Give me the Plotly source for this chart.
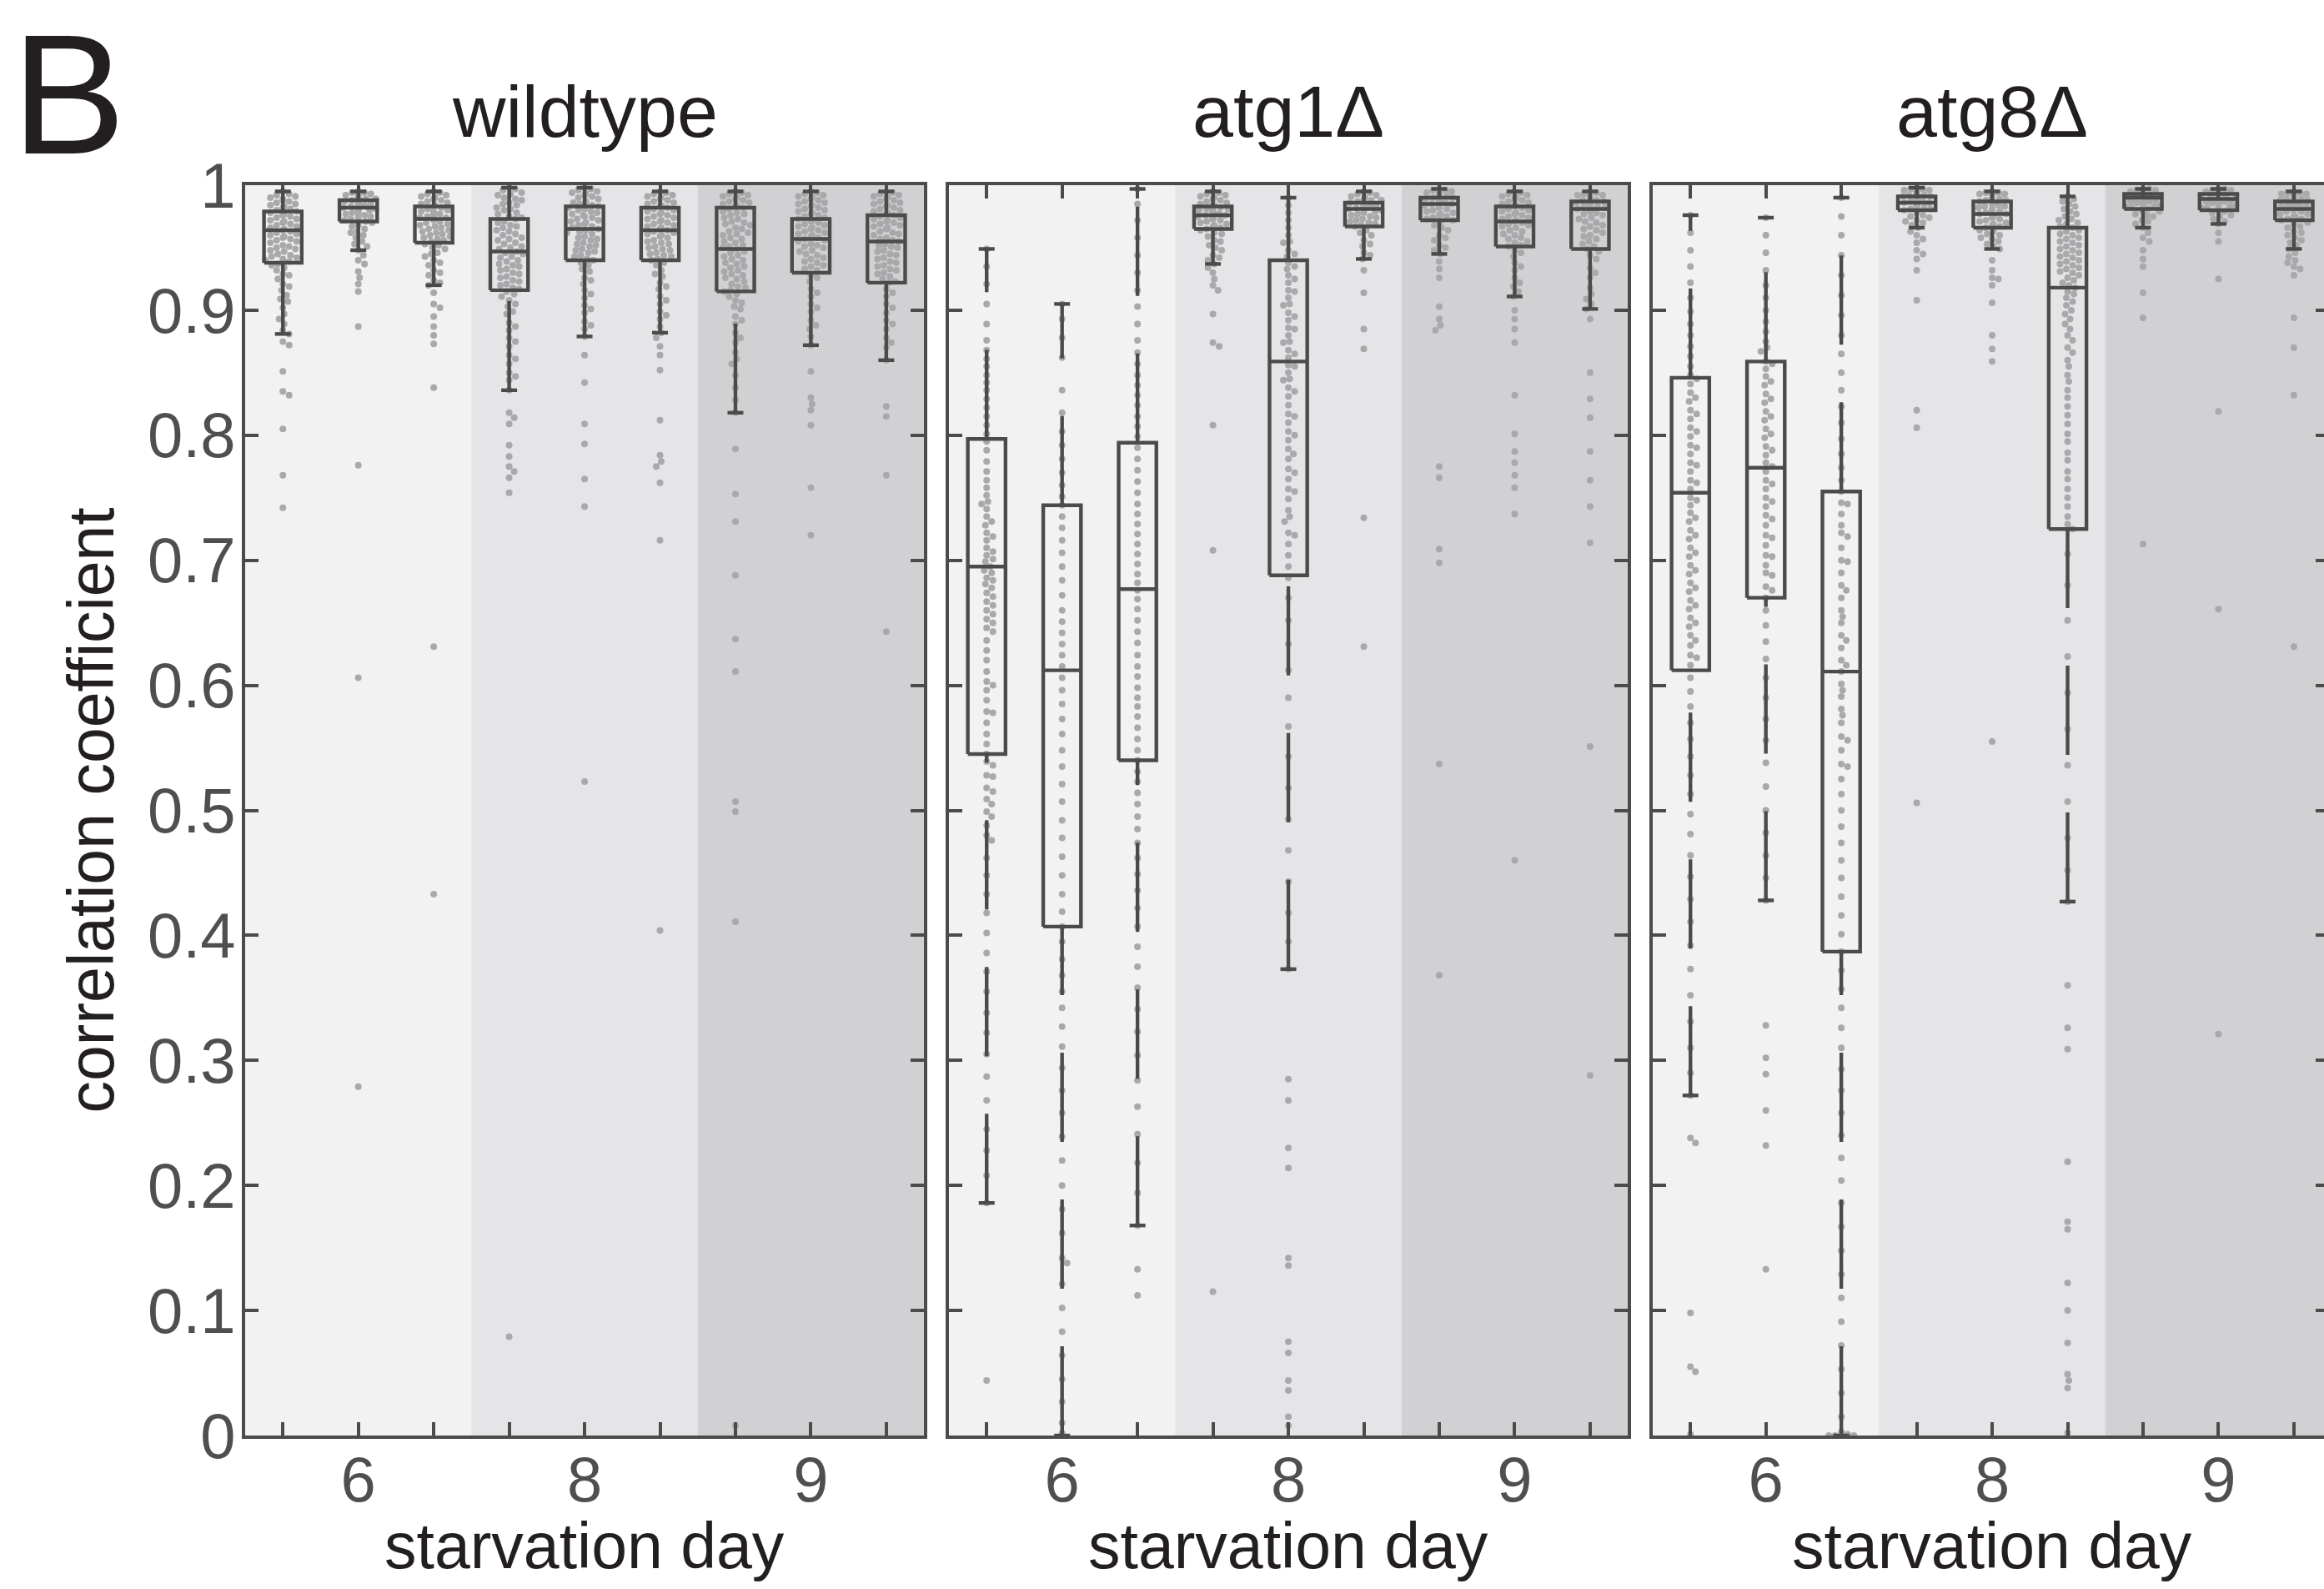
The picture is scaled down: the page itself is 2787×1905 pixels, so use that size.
import plotly.graph_objects as go

# ---------------- data ----------------
panel_titles = ["wildtype", "atg1Δ", "atg8Δ"]
day_labels = ["6", "8", "9"]
reps_per_day = 3
x_title = "starvation day"
y_title = "correlation coefficient"
y_tickvals = [0, 0.1, 0.2, 0.3, 0.4, 0.5, 0.6, 0.7, 0.8, 0.9, 1.0]
y_ticktext = ["0", "0.1", "0.2", "0.3", "0.4", "0.5", "0.6", "0.7", "0.8", "0.9", "1"]

# box statistics (lower adjacent, q1, median, q3, upper adjacent) per replicate
wt_lo = [0.881, 0.948, 0.920, 0.836, 0.879, 0.882, 0.818, 0.872, 0.860]
wt_q1 = [0.938, 0.971, 0.954, 0.916, 0.940, 0.940, 0.915, 0.930, 0.922]
wt_med = [0.964, 0.982, 0.973, 0.947, 0.965, 0.964, 0.949, 0.957, 0.955]
wt_q3 = [0.979, 0.988, 0.983, 0.973, 0.983, 0.982, 0.982, 0.973, 0.976]
wt_hi = [0.995, 0.995, 0.995, 0.998, 0.998, 0.995, 0.995, 0.995, 0.995]

atg1_lo = [0.186, 0.000, 0.168, 0.937, 0.373, 0.941, 0.945, 0.911, 0.901]
atg1_q1 = [0.545, 0.407, 0.540, 0.965, 0.688, 0.967, 0.972, 0.951, 0.949]
atg1_med = [0.695, 0.612, 0.677, 0.976, 0.859, 0.981, 0.985, 0.971, 0.981]
atg1_q3 = [0.797, 0.744, 0.794, 0.983, 0.940, 0.986, 0.990, 0.983, 0.987]
atg1_hi = [0.949, 0.905, 0.997, 0.995, 0.990, 0.995, 0.997, 0.995, 0.995]

atg8_lo = [0.272, 0.428, 0.000, 0.966, 0.949, 0.427, 0.966, 0.969, 0.949]
atg8_q1 = [0.612, 0.670, 0.387, 0.980, 0.966, 0.725, 0.981, 0.980, 0.972]
atg8_med = [0.754, 0.774, 0.611, 0.986, 0.977, 0.918, 0.990, 0.989, 0.981]
atg8_q3 = [0.846, 0.859, 0.755, 0.991, 0.987, 0.966, 0.993, 0.993, 0.987]
atg8_hi = [0.976, 0.974, 0.990, 0.998, 0.995, 0.991, 0.997, 0.997, 0.995]

# individual cells
wt_pts = [
    [0.995, 0.993, 0.991, 0.990, 0.988, 0.986, 0.985, 0.983, 0.982, 0.980, 0.979, 0.977, 0.976, 0.974, 0.972, 0.971,
     0.969, 0.967, 0.965, 0.964, 0.962, 0.960, 0.958, 0.957, 0.955, 0.952, 0.950, 0.948, 0.945, 0.943, 0.941, 0.939,
     0.936, 0.932, 0.928, 0.925, 0.921, 0.916, 0.912, 0.907, 0.902, 0.897, 0.893, 0.889, 0.884, 0.881, 0.875, 0.872,
     0.851, 0.835, 0.832, 0.805, 0.768, 0.742,
     0.992, 0.989, 0.987, 0.984, 0.981, 0.978, 0.976, 0.975, 0.973, 0.970, 0.968, 0.966, 0.963, 0.961, 0.959, 0.956,
     0.954, 0.951, 0.949, 0.947, 0.944, 0.942, 0.940, 0.937, 0.934, 0.929, 0.919, 0.909],
    [0.995, 0.994, 0.993, 0.992, 0.991, 0.990, 0.989, 0.988, 0.987, 0.986, 0.985, 0.984, 0.983, 0.982, 0.981, 0.980,
     0.979, 0.977, 0.976, 0.974, 0.972, 0.971, 0.968, 0.965, 0.962, 0.958, 0.955, 0.951, 0.948, 0.937, 0.931, 0.926,
     0.921, 0.915, 0.887, 0.776, 0.606, 0.279,
     0.994, 0.992, 0.990, 0.989, 0.987, 0.986, 0.985, 0.984, 0.983, 0.982, 0.981, 0.980, 0.978, 0.977, 0.975, 0.973,
     0.970, 0.967, 0.963, 0.960, 0.953, 0.944, 0.940],
    [0.995, 0.993, 0.992, 0.990, 0.989, 0.988, 0.986, 0.985, 0.983, 0.982, 0.980, 0.979, 0.977, 0.975, 0.974, 0.973,
     0.971, 0.969, 0.967, 0.965, 0.963, 0.961, 0.959, 0.957, 0.955, 0.952, 0.949, 0.946, 0.943, 0.940, 0.936, 0.932,
     0.928, 0.924, 0.920, 0.914, 0.902, 0.887, 0.880, 0.873, 0.838, 0.631, 0.433,
     0.994, 0.991, 0.989, 0.987, 0.984, 0.981, 0.979, 0.978, 0.976, 0.974, 0.972, 0.970, 0.968, 0.966, 0.964, 0.962,
     0.960, 0.958, 0.956, 0.953, 0.950, 0.945, 0.938, 0.930, 0.922, 0.905, 0.895],
    [0.998, 0.996, 0.994, 0.992, 0.990, 0.988, 0.986, 0.984, 0.982, 0.980, 0.977, 0.975, 0.973, 0.971, 0.968, 0.966,
     0.963, 0.961, 0.958, 0.956, 0.953, 0.951, 0.949, 0.947, 0.945, 0.942, 0.940, 0.937, 0.935, 0.932, 0.929, 0.926,
     0.923, 0.920, 0.917, 0.913, 0.908, 0.903, 0.897, 0.890, 0.884, 0.878, 0.871, 0.864, 0.857, 0.850, 0.844, 0.836,
     0.818, 0.814, 0.809, 0.792, 0.783, 0.775, 0.771, 0.766, 0.754, 0.079,
     0.997, 0.993, 0.989, 0.985, 0.981, 0.978, 0.974, 0.970, 0.967, 0.964, 0.960, 0.957, 0.954, 0.950, 0.946, 0.943,
     0.939, 0.936, 0.933, 0.930, 0.927, 0.924, 0.921, 0.918, 0.915, 0.911, 0.905, 0.899, 0.887, 0.875, 0.861, 0.847],
    [0.998, 0.996, 0.994, 0.993, 0.991, 0.989, 0.987, 0.985, 0.983, 0.981, 0.979, 0.977, 0.975, 0.973, 0.971, 0.969,
     0.967, 0.965, 0.963, 0.961, 0.958, 0.956, 0.953, 0.951, 0.948, 0.946, 0.943, 0.940, 0.936, 0.931, 0.926, 0.921,
     0.916, 0.910, 0.904, 0.898, 0.891, 0.885, 0.879, 0.864, 0.842, 0.809, 0.793, 0.765, 0.743, 0.523,
     0.997, 0.995, 0.992, 0.990, 0.986, 0.984, 0.982, 0.980, 0.978, 0.976, 0.974, 0.972, 0.970, 0.968, 0.966, 0.964,
     0.962, 0.959, 0.957, 0.954, 0.952, 0.949, 0.947, 0.944, 0.941, 0.938, 0.933, 0.924, 0.913, 0.901, 0.888],
    [0.995, 0.993, 0.991, 0.990, 0.988, 0.986, 0.984, 0.982, 0.980, 0.978, 0.976, 0.974, 0.972, 0.970, 0.968, 0.966,
     0.964, 0.962, 0.960, 0.958, 0.955, 0.953, 0.950, 0.948, 0.945, 0.943, 0.940, 0.936, 0.932, 0.927, 0.922, 0.917,
     0.911, 0.905, 0.899, 0.893, 0.887, 0.882, 0.878, 0.871, 0.864, 0.852, 0.812, 0.784, 0.779, 0.775, 0.762, 0.716,
     0.404,
     0.994, 0.992, 0.989, 0.987, 0.985, 0.983, 0.981, 0.979, 0.977, 0.975, 0.973, 0.971, 0.969, 0.967, 0.965, 0.963,
     0.961, 0.959, 0.956, 0.954, 0.951, 0.949, 0.946, 0.944, 0.941, 0.938, 0.929, 0.919, 0.908, 0.896],
    [0.995, 0.993, 0.991, 0.989, 0.987, 0.985, 0.983, 0.981, 0.978, 0.976, 0.973, 0.970, 0.968, 0.965, 0.962, 0.960,
     0.957, 0.954, 0.951, 0.949, 0.946, 0.943, 0.940, 0.937, 0.934, 0.931, 0.928, 0.925, 0.921, 0.918, 0.915, 0.911,
     0.906, 0.901, 0.895, 0.889, 0.882, 0.874, 0.866, 0.857, 0.848, 0.838, 0.828, 0.818, 0.789, 0.753, 0.731, 0.688,
     0.637, 0.611, 0.507, 0.499, 0.411, 0.008,
     0.994, 0.992, 0.990, 0.988, 0.986, 0.984, 0.982, 0.979, 0.977, 0.974, 0.971, 0.969, 0.966, 0.963, 0.961, 0.958,
     0.955, 0.952, 0.950, 0.947, 0.944, 0.941, 0.938, 0.935, 0.932, 0.929, 0.926, 0.923, 0.919, 0.916, 0.913, 0.908,
     0.903, 0.892, 0.878, 0.861],
    [0.995, 0.993, 0.991, 0.989, 0.987, 0.985, 0.983, 0.981, 0.979, 0.977, 0.975, 0.973, 0.971, 0.969, 0.967, 0.965,
     0.963, 0.961, 0.959, 0.957, 0.955, 0.952, 0.950, 0.947, 0.944, 0.941, 0.938, 0.935, 0.932, 0.928, 0.923, 0.917,
     0.911, 0.905, 0.899, 0.892, 0.885, 0.879, 0.872, 0.851, 0.830, 0.825, 0.820, 0.808, 0.758, 0.720,
     0.994, 0.992, 0.990, 0.988, 0.986, 0.984, 0.982, 0.980, 0.978, 0.976, 0.974, 0.972, 0.970, 0.968, 0.966, 0.964,
     0.962, 0.960, 0.958, 0.956, 0.953, 0.951, 0.948, 0.945, 0.942, 0.939, 0.936, 0.933, 0.926, 0.914, 0.902, 0.888],
    [0.995, 0.993, 0.991, 0.989, 0.987, 0.985, 0.983, 0.981, 0.979, 0.977, 0.975, 0.973, 0.971, 0.969, 0.967, 0.965,
     0.962, 0.960, 0.957, 0.955, 0.952, 0.950, 0.947, 0.944, 0.941, 0.938, 0.935, 0.932, 0.929, 0.925, 0.922, 0.917,
     0.911, 0.905, 0.898, 0.892, 0.885, 0.878, 0.870, 0.860, 0.823, 0.815, 0.768, 0.643,
     0.994, 0.992, 0.990, 0.988, 0.986, 0.984, 0.982, 0.980, 0.978, 0.976, 0.974, 0.972, 0.970, 0.968, 0.966, 0.963,
     0.961, 0.958, 0.956, 0.953, 0.951, 0.948, 0.945, 0.942, 0.939, 0.936, 0.933, 0.930, 0.927, 0.923, 0.914, 0.902,
     0.889, 0.874],
]

atg1_pts = [
    [0.949, 0.935, 0.921, 0.905, 0.889, 0.876, 0.868, 0.861, 0.855, 0.848, 0.842, 0.836, 0.829, 0.822, 0.815, 0.808,
     0.801, 0.795, 0.788, 0.779, 0.771, 0.764, 0.758, 0.752, 0.747, 0.741, 0.735, 0.728, 0.722, 0.716, 0.710, 0.704,
     0.699, 0.695, 0.690, 0.684, 0.678, 0.671, 0.664, 0.657, 0.650, 0.643, 0.636, 0.628, 0.620, 0.611, 0.603, 0.596,
     0.588, 0.579, 0.570, 0.561, 0.553, 0.545, 0.536, 0.527, 0.518, 0.509, 0.499, 0.488, 0.476, 0.462, 0.448, 0.433,
     0.418, 0.402, 0.386, 0.371, 0.355, 0.338, 0.322, 0.305, 0.287, 0.268, 0.245, 0.228, 0.208, 0.186, 0.044,
     0.745, 0.731, 0.719, 0.707, 0.701, 0.692, 0.686, 0.681, 0.674, 0.667, 0.660, 0.653, 0.646, 0.600, 0.578, 0.539,
     0.528, 0.515, 0.505, 0.495, 0.480],
    [0.905, 0.893, 0.878, 0.862, 0.836, 0.818, 0.803, 0.792, 0.781, 0.770, 0.760, 0.751, 0.744, 0.735, 0.726, 0.716,
     0.706, 0.695, 0.684, 0.672, 0.660, 0.651, 0.642, 0.633, 0.624, 0.615, 0.606, 0.596, 0.585, 0.573, 0.561, 0.548,
     0.535, 0.521, 0.507, 0.492, 0.478, 0.463, 0.448, 0.433, 0.419, 0.407, 0.395, 0.381, 0.368, 0.355, 0.342, 0.327,
     0.311, 0.294, 0.276, 0.258, 0.239, 0.220, 0.200, 0.181, 0.162, 0.142, 0.138, 0.121, 0.102, 0.083, 0.064, 0.045,
     0.027, 0.010, 0.002],
    [0.997, 0.985, 0.972, 0.958, 0.944, 0.930, 0.916, 0.903, 0.889, 0.876, 0.866, 0.857, 0.848, 0.840, 0.832, 0.824,
     0.815, 0.807, 0.799, 0.790, 0.781, 0.772, 0.763, 0.754, 0.745, 0.737, 0.729, 0.721, 0.713, 0.705, 0.697, 0.689,
     0.682, 0.676, 0.669, 0.661, 0.652, 0.643, 0.634, 0.624, 0.615, 0.607, 0.598, 0.590, 0.583, 0.575, 0.566, 0.557,
     0.548, 0.540, 0.531, 0.523, 0.514, 0.505, 0.495, 0.485, 0.474, 0.462, 0.449, 0.436, 0.422, 0.407, 0.391, 0.375,
     0.358, 0.341, 0.323, 0.304, 0.284, 0.263, 0.241, 0.218, 0.194, 0.168, 0.133, 0.112],
    [0.995, 0.993, 0.991, 0.990, 0.988, 0.987, 0.985, 0.984, 0.983, 0.982, 0.981, 0.980, 0.979, 0.978, 0.977, 0.976,
     0.975, 0.974, 0.973, 0.972, 0.970, 0.969, 0.967, 0.966, 0.964, 0.962, 0.959, 0.956, 0.952, 0.948, 0.944, 0.940,
     0.937, 0.930, 0.925, 0.920, 0.916, 0.897, 0.874, 0.871, 0.808, 0.708, 0.115,
     0.994, 0.992, 0.989, 0.986, 0.984, 0.982, 0.981, 0.979, 0.978, 0.976, 0.975, 0.973, 0.971, 0.968, 0.965, 0.961,
     0.955, 0.950, 0.942, 0.934],
    [0.990, 0.984, 0.978, 0.972, 0.966, 0.960, 0.954, 0.948, 0.943, 0.938, 0.933, 0.928, 0.922, 0.916, 0.910, 0.904,
     0.898, 0.892, 0.886, 0.880, 0.874, 0.868, 0.862, 0.856, 0.850, 0.844, 0.838, 0.831, 0.824, 0.817, 0.810, 0.803,
     0.796, 0.789, 0.781, 0.773, 0.765, 0.757, 0.749, 0.740, 0.731, 0.722, 0.713, 0.704, 0.695, 0.686, 0.670, 0.652,
     0.633, 0.612, 0.590, 0.567, 0.543, 0.518, 0.493, 0.468, 0.443, 0.418, 0.395, 0.373, 0.285, 0.268, 0.230, 0.214,
     0.142, 0.136, 0.075, 0.066, 0.044, 0.036, 0.015, 0.008,
     0.955, 0.945, 0.935, 0.925, 0.915, 0.905, 0.895, 0.885, 0.875, 0.865, 0.855, 0.845, 0.835, 0.815, 0.800, 0.785,
     0.770, 0.755, 0.735, 0.720],
    [0.995, 0.993, 0.992, 0.990, 0.989, 0.988, 0.987, 0.986, 0.985, 0.984, 0.983, 0.982, 0.981, 0.980, 0.979, 0.977,
     0.975, 0.973, 0.971, 0.969, 0.967, 0.964, 0.960, 0.956, 0.951, 0.946, 0.941, 0.932, 0.914, 0.885, 0.869, 0.734,
     0.631,
     0.994, 0.991, 0.988, 0.986, 0.984, 0.983, 0.982, 0.980, 0.978, 0.976, 0.974, 0.972, 0.970, 0.968, 0.962, 0.953,
     0.944],
    [0.997, 0.996, 0.995, 0.994, 0.993, 0.992, 0.991, 0.990, 0.989, 0.988, 0.987, 0.986, 0.985, 0.984, 0.983, 0.981,
     0.979, 0.977, 0.975, 0.973, 0.971, 0.968, 0.964, 0.960, 0.956, 0.952, 0.948, 0.945, 0.939, 0.933, 0.926, 0.903,
     0.893, 0.888, 0.884, 0.775, 0.766, 0.709, 0.698, 0.537, 0.368,
     0.996, 0.994, 0.992, 0.990, 0.988, 0.986, 0.985, 0.983, 0.982, 0.980, 0.978, 0.976, 0.974, 0.972, 0.966, 0.958,
     0.950],
    [0.995, 0.993, 0.991, 0.989, 0.987, 0.985, 0.983, 0.981, 0.979, 0.977, 0.975, 0.973, 0.971, 0.969, 0.967, 0.964,
     0.961, 0.958, 0.955, 0.952, 0.948, 0.943, 0.938, 0.932, 0.926, 0.919, 0.911, 0.900, 0.893, 0.885, 0.874, 0.832,
     0.801, 0.787, 0.778, 0.768, 0.758, 0.737, 0.460,
     0.994, 0.992, 0.990, 0.988, 0.986, 0.984, 0.982, 0.980, 0.978, 0.976, 0.974, 0.972, 0.970, 0.968, 0.966, 0.963,
     0.960, 0.957, 0.954, 0.951, 0.946, 0.935, 0.922, 0.915],
    [0.995, 0.993, 0.992, 0.991, 0.990, 0.989, 0.988, 0.987, 0.986, 0.985, 0.984, 0.983, 0.982, 0.981, 0.979, 0.977,
     0.974, 0.971, 0.968, 0.965, 0.962, 0.959, 0.955, 0.951, 0.947, 0.941, 0.934, 0.926, 0.918, 0.909, 0.901, 0.893,
     0.850, 0.829, 0.814, 0.787, 0.764, 0.743, 0.714, 0.551, 0.288,
     0.994, 0.992, 0.990, 0.989, 0.988, 0.986, 0.985, 0.983, 0.982, 0.980, 0.978, 0.976, 0.973, 0.970, 0.967, 0.964,
     0.960, 0.957, 0.953, 0.949, 0.944, 0.930, 0.913, 0.905],
]

atg8_pts = [
    [0.976, 0.962, 0.948, 0.935, 0.922, 0.910, 0.899, 0.889, 0.880, 0.871, 0.863, 0.855, 0.848, 0.841, 0.834, 0.827,
     0.820, 0.813, 0.806, 0.799, 0.792, 0.785, 0.778, 0.771, 0.764, 0.757, 0.750, 0.744, 0.738, 0.731, 0.724, 0.717,
     0.710, 0.703, 0.696, 0.689, 0.682, 0.675, 0.668, 0.661, 0.654, 0.647, 0.640, 0.632, 0.624, 0.616, 0.606, 0.595,
     0.583, 0.570, 0.557, 0.543, 0.528, 0.513, 0.497, 0.481, 0.464, 0.447, 0.429, 0.411, 0.392, 0.373, 0.352, 0.331,
     0.310, 0.290, 0.272, 0.238, 0.234, 0.098, 0.055, 0.051, 0.001,
     0.845, 0.830, 0.817, 0.803, 0.790, 0.776, 0.762, 0.748, 0.734, 0.720, 0.706, 0.692, 0.678, 0.664, 0.650, 0.636,
     0.622],
    [0.974, 0.960, 0.946, 0.932, 0.920, 0.910, 0.900, 0.891, 0.883, 0.875, 0.867, 0.859, 0.853, 0.847, 0.840, 0.833,
     0.826, 0.819, 0.812, 0.805, 0.798, 0.791, 0.784, 0.778, 0.771, 0.764, 0.757, 0.750, 0.743, 0.736, 0.728, 0.720,
     0.712, 0.704, 0.696, 0.688, 0.679, 0.670, 0.660, 0.648, 0.635, 0.621, 0.606, 0.590, 0.573, 0.556, 0.538, 0.519,
     0.500, 0.482, 0.464, 0.446, 0.428, 0.328, 0.302, 0.289, 0.260, 0.232, 0.133,
     0.870, 0.857, 0.843, 0.829, 0.815, 0.801, 0.788, 0.775, 0.761, 0.747, 0.733, 0.718, 0.703, 0.690, 0.676],
    [0.990, 0.975, 0.960, 0.944, 0.928, 0.912, 0.896, 0.880, 0.865, 0.850, 0.836, 0.823, 0.810, 0.797, 0.785, 0.774,
     0.764, 0.755, 0.746, 0.737, 0.728, 0.719, 0.710, 0.700, 0.690, 0.680, 0.670, 0.660, 0.650, 0.640, 0.630, 0.620,
     0.611, 0.601, 0.591, 0.581, 0.570, 0.559, 0.548, 0.537, 0.525, 0.513, 0.500, 0.487, 0.474, 0.460, 0.446, 0.431,
     0.416, 0.401, 0.387, 0.372, 0.357, 0.342, 0.326, 0.310, 0.293, 0.276, 0.258, 0.240, 0.222, 0.204, 0.186, 0.167,
     0.148, 0.129, 0.110, 0.091, 0.072, 0.053, 0.034, 0.015, 0.003, 0.001, 0.000, 0.000, 0.000, 0.000,
     0.745, 0.722, 0.699, 0.676, 0.655, 0.636, 0.616, 0.596, 0.576, 0.556, 0.535],
    [0.998, 0.997, 0.996, 0.995, 0.994, 0.993, 0.992, 0.991, 0.990, 0.989, 0.988, 0.987, 0.986, 0.985, 0.984, 0.983,
     0.982, 0.981, 0.980, 0.978, 0.976, 0.974, 0.972, 0.970, 0.968, 0.966, 0.960, 0.954, 0.948, 0.941, 0.932, 0.908,
     0.820, 0.806, 0.506,
     0.997, 0.996, 0.995, 0.994, 0.993, 0.992, 0.991, 0.990, 0.989, 0.988, 0.987, 0.986, 0.985, 0.984, 0.983, 0.981,
     0.979, 0.975, 0.971, 0.963, 0.957, 0.945],
    [0.995, 0.994, 0.993, 0.992, 0.991, 0.990, 0.989, 0.988, 0.987, 0.986, 0.984, 0.983, 0.981, 0.980, 0.978, 0.977,
     0.975, 0.974, 0.972, 0.970, 0.968, 0.966, 0.963, 0.960, 0.957, 0.953, 0.949, 0.932, 0.926, 0.920, 0.906, 0.880,
     0.869, 0.859, 0.555,
     0.994, 0.993, 0.991, 0.990, 0.988, 0.986, 0.985, 0.983, 0.982, 0.979, 0.977, 0.975, 0.973, 0.971, 0.969, 0.967,
     0.964, 0.961, 0.958, 0.955, 0.951, 0.940, 0.925],
    [0.991, 0.987, 0.983, 0.979, 0.975, 0.972, 0.969, 0.966, 0.963, 0.960, 0.957, 0.954, 0.951, 0.948, 0.945, 0.942,
     0.939, 0.936, 0.933, 0.930, 0.926, 0.922, 0.918, 0.913, 0.907, 0.900, 0.893, 0.885, 0.876, 0.866, 0.855, 0.843,
     0.830, 0.816, 0.801, 0.786, 0.771, 0.757, 0.743, 0.729, 0.725, 0.705, 0.680, 0.652, 0.623, 0.594, 0.565, 0.536,
     0.507, 0.478, 0.452, 0.427, 0.360, 0.326, 0.309, 0.219, 0.171, 0.165, 0.122, 0.100, 0.074, 0.049, 0.044, 0.038,
     0.002,
     0.989, 0.985, 0.981, 0.977, 0.973, 0.970, 0.967, 0.964, 0.961, 0.958, 0.955, 0.952, 0.949, 0.946, 0.943, 0.940,
     0.937, 0.934, 0.931, 0.928, 0.924, 0.920, 0.915, 0.910, 0.904, 0.897, 0.889, 0.880, 0.870, 0.860, 0.848, 0.836,
     0.823, 0.809, 0.795, 0.780, 0.765, 0.750, 0.735],
    [0.997, 0.996, 0.995, 0.994, 0.993, 0.992, 0.991, 0.990, 0.989, 0.988, 0.987, 0.986, 0.985, 0.984, 0.983, 0.982,
     0.981, 0.979, 0.977, 0.975, 0.972, 0.969, 0.966, 0.955, 0.948, 0.941, 0.935, 0.914, 0.894, 0.713,
     0.997, 0.996, 0.995, 0.994, 0.993, 0.992, 0.991, 0.990, 0.989, 0.988, 0.987, 0.986, 0.985, 0.983, 0.980, 0.976,
     0.971, 0.962, 0.958],
    [0.997, 0.996, 0.995, 0.994, 0.993, 0.992, 0.991, 0.990, 0.989, 0.988, 0.987, 0.986, 0.985, 0.984, 0.983, 0.982,
     0.981, 0.980, 0.978, 0.976, 0.973, 0.969, 0.955, 0.925, 0.819, 0.661, 0.321,
     0.997, 0.996, 0.995, 0.994, 0.993, 0.992, 0.991, 0.990, 0.989, 0.988, 0.987, 0.986, 0.984, 0.982, 0.979, 0.975,
     0.971, 0.962],
    [0.995, 0.994, 0.993, 0.992, 0.991, 0.990, 0.989, 0.988, 0.987, 0.986, 0.985, 0.984, 0.983, 0.982, 0.981, 0.980,
     0.979, 0.977, 0.975, 0.973, 0.972, 0.969, 0.966, 0.962, 0.958, 0.954, 0.949, 0.943, 0.938, 0.933, 0.928, 0.894,
     0.870, 0.832, 0.631,
     0.994, 0.993, 0.992, 0.991, 0.990, 0.989, 0.988, 0.987, 0.986, 0.985, 0.984, 0.983, 0.982, 0.981, 0.979, 0.977,
     0.975, 0.973, 0.970, 0.967, 0.963, 0.960, 0.956, 0.952, 0.946, 0.940, 0.935],
]

panels = [
    (wt_lo, wt_q1, wt_med, wt_q3, wt_hi, wt_pts),
    (atg1_lo, atg1_q1, atg1_med, atg1_q3, atg1_hi, atg1_pts),
    (atg8_lo, atg8_q1, atg8_med, atg8_q3, atg8_hi, atg8_pts),
]

# ---------------- styling / geometry (page pixel coordinates) ----------------
# The page body margin is removed (post_script below), so the figure spans the window exactly.
W, H = 2787, 1905
PLOT_L, PLOT_T, PLOT_B = 294.0, 222.0, 1720.5
ML, MT, MR = int(PLOT_L), int(PLOT_T), 0
MB = int(round(H - PLOT_B))
PW, PH = W - ML - MR, H - MT - MB
panel_left_px = [294.0, 1138.0, 1982.0]
panel_w_px = 814.1
n_box = len(day_labels) * reps_per_day


def px_to_paper_x(px):
    return (px - PLOT_L) / PW


def px_to_paper_y(py):
    return (PLOT_B - py) / PH


LINE = "#4b4b4b"
DOT = "#a9a9ab"
TXT = "#231f20"
TICK_TXT = "#4f4f4f"
band_colors = ["#f2f2f3", "#e5e5e7", "#d1d1d3"]
FONT = "Liberation Sans, Arial, sans-serif"
BOX_HALF = 0.25
CAP_HALF = 0.105
LW = 4.4
DOT_SIZE = 8
px_per_x = panel_w_px / n_box
px_per_y = PH


def swarm_offsets(vals, sep=7.5, step=1.5, max_px=20):
    """Deterministic beeswarm: spread overlapping dots sideways (in px)."""
    placed = []
    offs = []
    for v in vals:
        ypx = v * px_per_y
        near = [(px, py) for px, py in placed if abs(py - ypx) < sep]
        k = 0
        chosen = 0.0
        while True:
            cands = [0.0] if k == 0 else [k * step, -k * step]
            done = False
            for c in cands:
                if all((c - px) ** 2 + (ypx - py) ** 2 >= sep ** 2 for px, py in near):
                    chosen = c
                    done = True
                    break
            if done or k * step > max_px:
                break
            k += 1
        placed.append((chosen, ypx))
        offs.append(chosen / px_per_x)
    return offs


fig = go.Figure()
shapes = []
annotations = []

for p, (lo, q1, med, q3, hi, pts) in enumerate(panels):
    xa = "x" if p == 0 else f"x{p + 1}"
    ya = "y" if p == 0 else f"y{p + 1}"
    # the last panel is cut by the right edge of the picture
    x_max = min(n_box + 0.5, 0.5 + n_box * (W - panel_left_px[p]) / panel_w_px)
    cut = x_max < n_box + 0.5

    # day bands
    for g in range(len(day_labels)):
        shapes.append(dict(type="rect", xref=xa, yref=ya, x0=g * reps_per_day + 0.5,
                           x1=min(g * reps_per_day + reps_per_day + 0.5, x_max), y0=0, y1=1,
                           fillcolor=band_colors[g], line=dict(width=0), layer="below"))

    # dots
    dx, dy = [], []
    for i, vals in enumerate(pts):
        svals = sorted(vals, reverse=True)
        offs = swarm_offsets(svals)
        for v, o in zip(svals, offs):
            dx.append(i + 1 + o)
            dy.append(v)
    fig.add_trace(go.Scatter(x=dx, y=dy, mode="markers", xaxis=xa, yaxis=ya,
                             marker=dict(size=DOT_SIZE, color=DOT, line=dict(width=0)),
                             showlegend=False, hoverinfo="skip"))

    # whiskers (dashed, each drawn upward from its lower end)
    for i in range(n_box):
        for y0, y1 in ((lo[i], q1[i]), (q3[i], hi[i])):
            if y1 > y0:
                fig.add_trace(go.Scatter(x=[i + 1, i + 1], y=[y0, y1], mode="lines", xaxis=xa, yaxis=ya,
                                         line=dict(color=LINE, width=LW, dash="107px,69px"),
                                         showlegend=False, hoverinfo="skip"))

    # caps
    cx, cy = [], []
    for i in range(n_box):
        for v in (lo[i], hi[i]):
            cx += [i + 1 - CAP_HALF, i + 1 + CAP_HALF, None]
            cy += [v, v, None]
    fig.add_trace(go.Scatter(x=cx, y=cy, mode="lines", xaxis=xa, yaxis=ya,
                             line=dict(color=LINE, width=LW), showlegend=False, hoverinfo="skip"))

    # boxes
    bx, by = [], []
    for i in range(n_box):
        xl, xr = i + 1 - BOX_HALF, i + 1 + BOX_HALF
        bx += [xl, xr, xr, xl, xl, None]
        by += [q1[i], q1[i], q3[i], q3[i], q1[i], None]
    fig.add_trace(go.Scatter(x=bx, y=by, mode="lines", xaxis=xa, yaxis=ya,
                             line=dict(color=LINE, width=LW), showlegend=False, hoverinfo="skip"))

    # medians
    mx, my = [], []
    for i in range(n_box):
        mx += [i + 1 - BOX_HALF, i + 1 + BOX_HALF, None]
        my += [med[i], med[i], None]
    fig.add_trace(go.Scatter(x=mx, y=my, mode="lines", xaxis=xa, yaxis=ya,
                             line=dict(color=LINE, width=LW), showlegend=False, hoverinfo="skip"))

    # axes
    d0 = max(0.0, px_to_paper_x(panel_left_px[p]))
    d1 = min(1.0, px_to_paper_x(panel_left_px[p] + panel_w_px))
    ticktext_x = []
    for i in range(n_box):
        g, r = divmod(i, reps_per_day)
        ticktext_x.append(day_labels[g] if r == reps_per_day // 2 else "")
    xkey = "xaxis" if p == 0 else f"xaxis{p + 1}"
    ykey = "yaxis" if p == 0 else f"yaxis{p + 1}"
    fig.layout[xkey] = dict(domain=[d0, d1], range=[0.5, x_max], anchor=ya,
                            tickmode="array", tickvals=list(range(1, n_box + 1)), ticktext=ticktext_x,
                            ticks="inside", ticklen=16, tickwidth=LW, tickcolor=LINE,
                            showline=True, linewidth=4.4, linecolor=LINE, mirror="ticks",
                            showgrid=False, zeroline=False, fixedrange=True,
                            tickfont=dict(family=FONT, size=76, color=TICK_TXT), ticklabelstandoff=-16)
    fig.layout[ykey] = dict(domain=[0, 1], range=[0, 1], anchor=xa,
                            tickmode="array", tickvals=y_tickvals, ticktext=y_ticktext,
                            ticks="inside", ticklen=16, tickwidth=LW, tickcolor=LINE,
                            showline=True, linewidth=4.4, linecolor=LINE,
                            mirror=(False if cut else "ticks"),
                            showgrid=False, zeroline=False, fixedrange=True,
                            showticklabels=(p == 0), ticklabelstandoff=-8,
                            tickfont=dict(family=FONT, size=76, color=TICK_TXT))
    if cut:
        # right-hand ticks of the cut panel (the frame line itself lies outside the picture)
        fig.add_trace(go.Scatter(x=[1], y=[0.5], xaxis=xa, yaxis="y9", mode="markers",
                                 marker=dict(size=1, opacity=0), showlegend=False, hoverinfo="skip"))
        fig.layout["yaxis9"] = dict(overlaying=ya, side="right", anchor=xa, range=[0, 1],
                                    tickmode="array", tickvals=y_tickvals, ticks="inside", ticklen=10,
                                    tickwidth=LW, tickcolor=LINE, showline=False, showgrid=False,
                                    zeroline=False, showticklabels=False, fixedrange=True)

    # titles
    cxp = px_to_paper_x(panel_left_px[p] + panel_w_px / 2)
    annotations.append(dict(text=panel_titles[p], xref="paper", yref="paper", x=cxp, y=px_to_paper_y(133),
                            xanchor="center", yanchor="middle", showarrow=False,
                            font=dict(family=FONT, size=88, color=TXT)))
    annotations.append(dict(text=x_title, xref="paper", yref="paper", x=cxp, y=px_to_paper_y(1852),
                            xanchor="center", yanchor="middle", showarrow=False,
                            font=dict(family=FONT, size=77, color=TXT)))

annotations.append(dict(text=y_title, xref="paper", yref="paper", x=px_to_paper_x(108), y=0.5,
                        xanchor="center", yanchor="middle", textangle=-90, showarrow=False,
                        font=dict(family=FONT, size=77, color=TXT)))
annotations.append(dict(text="B", xref="paper", yref="paper", x=px_to_paper_x(12), y=px_to_paper_y(112),
                        xanchor="left", yanchor="middle", showarrow=False,
                        font=dict(family=FONT, size=205, color=TXT)))

fig.update_layout(width=W, height=H, margin=dict(l=ML, r=MR, t=MT, b=MB, pad=0),
                  paper_bgcolor="white", plot_bgcolor=band_colors[0],
                  shapes=shapes, annotations=annotations, showlegend=False)

# remove the page's default body margin so the figure fills the window exactly; no modebar
fig.write_html("out.html",
               config={"displayModeBar": False},
               post_script="document.body.style.margin='0';"
                           "document.documentElement.style.overflow='hidden';")
